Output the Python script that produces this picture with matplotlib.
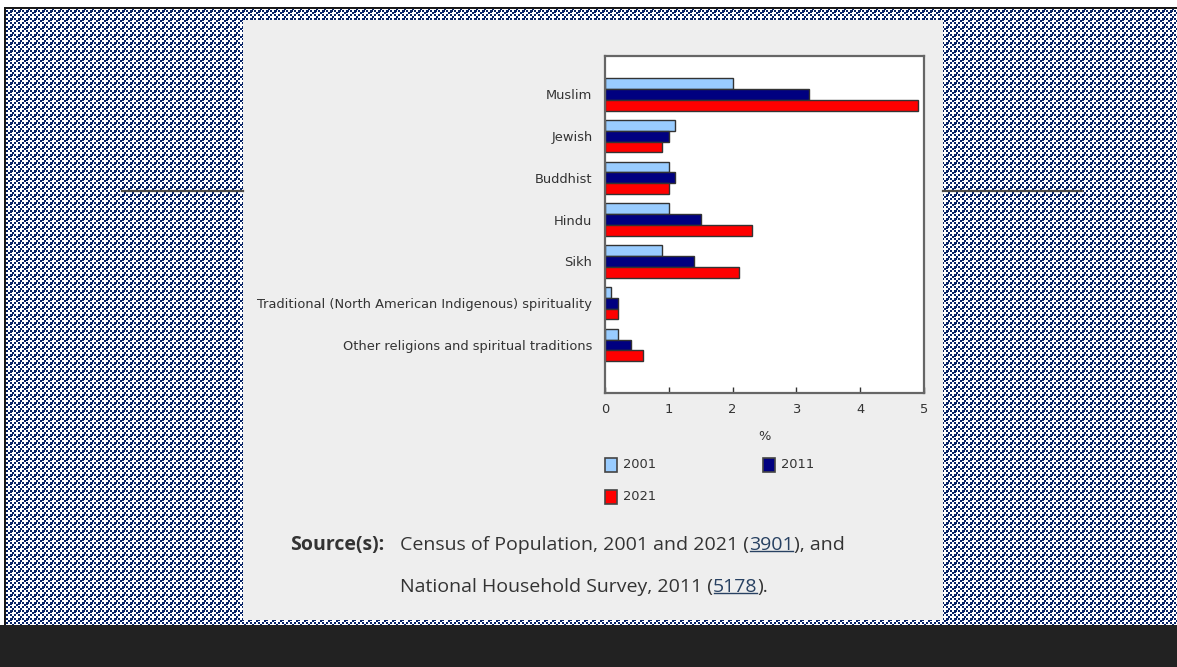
import numpy as np
import matplotlib
matplotlib.use("Agg")
import matplotlib.pyplot as plt
from matplotlib.patches import Rectangle
from matplotlib.lines import Line2D

categories = ["Muslim", "Jewish", "Buddhist", "Hindu", "Sikh",
              "Traditional (North American Indigenous) spirituality",
              "Other religions and spiritual traditions"]
years = ["2001", "2011", "2021"]
v2001 = [2.0, 1.1, 1.0, 1.0, 0.9, 0.1, 0.2]
v2011 = [3.2, 1.0, 1.1, 1.5, 1.4, 0.2, 0.4]
v2021 = [4.9, 0.9, 1.0, 2.3, 2.1, 0.2, 0.6]
xticks = [0, 1, 2, 3, 4, 5]
colors = ["#99ccff", "#000080", "#ff0000"]

W, H = 1177, 667
fig = plt.figure(figsize=(W / 100, H / 100), dpi=100)

# ---- background pattern ----
bg = fig.add_axes([0, 0, 1, 1])
bg.set_axis_off()
img = np.ones((H, W, 3))
yy, xx = np.mgrid[0:H, 0:W]
blue = np.array([0x06, 0x22, 0x66]) / 255.0
ci = (xx // 2) % 4
cj = (yy // 2) % 4
mask = ((ci % 2 == 1) & (cj % 2 == 1)) | ((ci == 2) & (cj == 0)) | ((ci == 0) & (cj == 2))
mask = mask | ((xx % 8 == 4) & (cj == 1)) | ((yy % 8 == 4) & (ci == 1))
region = (xx >= 5) & (yy >= 8) & (yy < 625)
img[mask & region] = blue
img[(xx >= 4) & (xx < 6) & (yy >= 7) & (yy < 625)] = 0.1
img[(yy >= 7) & (yy < 9) & (xx >= 4)] = 0.1
img[yy >= 625] = np.array([0x22, 0x22, 0x22]) / 255.0
img[(xx >= 243) & (xx < 943) & (yy >= 20) & (yy < 620)] = 0xee / 255.0
bg.imshow(img, extent=[0, W, H, 0], interpolation="nearest", aspect="auto")
bg.set_xlim(0, W)
bg.set_ylim(H, 0)
bg.add_line(Line2D([122, 243], [191, 191], color="#4a4a4a", lw=1.6, zorder=5))
bg.add_line(Line2D([943, 1082], [191, 191], color="#4a4a4a", lw=1.6, zorder=5))

# ---- chart ----
ax = fig.add_axes([605 / W, 1 - 393 / H, (924 - 605) / W, (393 - 55.5) / H])
ax.set_facecolor("white")
y = np.arange(len(categories))
bh = 0.26
for i, (vals, c) in enumerate(zip([v2001, v2011, v2021], colors)):
    ax.barh(y + (i - 1) * bh, vals, height=bh, color=c, edgecolor="#333333",
            linewidth=1.0, label=years[i])
ax.set_xlim(0, 5)
ax.set_ylim(7.15, -0.93)
ax.set_xticks(xticks)
ax.set_xticklabels([str(t) for t in xticks], fontsize=9.4, color="#333333")
ax.set_yticks(y)
ax.set_yticklabels(categories, fontsize=9.4, color="#333333")
ax.tick_params(axis="y", length=0, pad=9)
ax.tick_params(axis="x", direction="in", length=4, width=1, color="#333333", pad=7)
for s in ax.spines.values():
    s.set_color("#666666")
    s.set_linewidth(1.6)
ax.set_xlabel("%", fontsize=9.4, color="#333333", labelpad=10)

# legend (drawn in pixel coordinates on the background axes)
leg_pos = [(605, 465), (763, 465), (605, 497)]
for (lx, ly), c, lab in zip(leg_pos, colors, years):
    bg.add_patch(Rectangle((lx, ly - 7), 12, 14, facecolor=c, edgecolor="#444444", lw=1.2))
    bg.text(lx + 18, ly, lab, fontsize=9.4, color="#333333", va="center", ha="left")

# ---- source text ----
fs = 14
tc = "#333333"
link = "#284162"
fam = "Open Sans"
fig.text(290 / W, 1 - 545 / H, "Source(s):", fontsize=fs, fontweight="bold",
         family=fam, color=tc, va="center")
fig.canvas.draw()
r = fig.canvas.get_renderer()


def seq(x0, yc, parts):
    x = x0
    for txt, col, ul in parts:
        t = fig.text(x / W, 1 - yc / H, txt, fontsize=fs, family=fam, color=col, va="center")
        bb = t.get_window_extent(renderer=r)
        if ul:
            yline = H - bb.y0
            bg.add_line(Line2D([bb.x0 + 1, bb.x1 - 1], [yline - 3, yline - 3], color=col, lw=1.0))
        x = bb.x1
    return x


seq(400, 545, [("Census of Population, 2001 and 2021 (", tc, False),
               ("3901", link, True), ("), and", tc, False)])
seq(400, 587, [("National Household Survey, 2011 (", tc, False),
               ("5178", link, True), (").", tc, False)])

fig.savefig("out.png", dpi=100)
